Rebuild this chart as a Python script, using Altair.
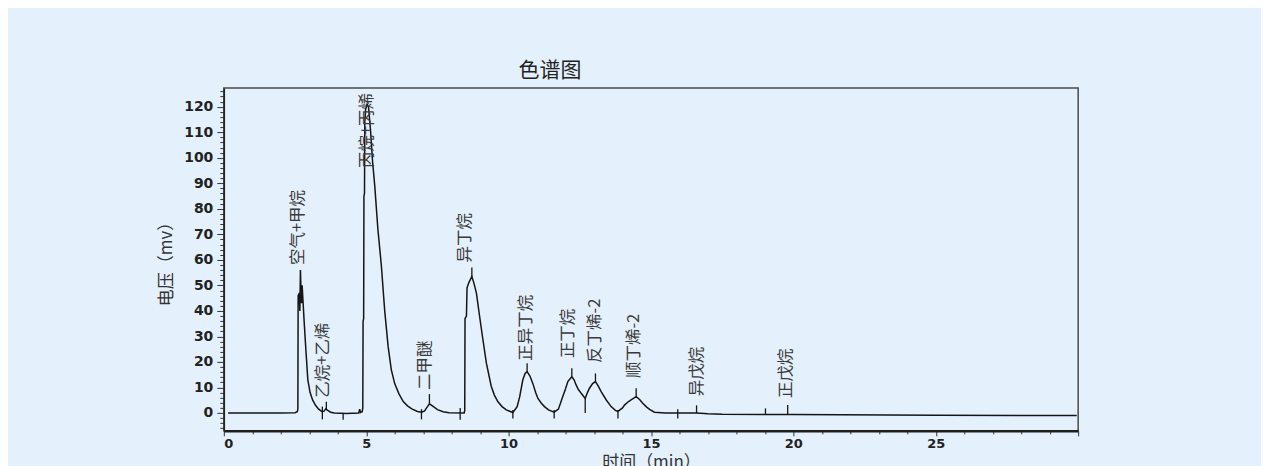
import altair as alt
import pandas as pd

# ---- chromatogram trace (time in min, signal in mV) ----
trace_t = [0.15, 1.0, 2.0, 2.5, 2.58, 2.60, 2.61, 2.65, 2.67, 2.69, 2.71, 2.73, 2.75, 2.78,
           2.82, 2.88, 2.95, 3.03, 3.12, 3.22, 3.33, 3.45, 3.52, 3.58, 3.65, 3.75, 3.88,
           4.3, 4.74, 4.77, 4.80, 4.86, 4.88, 4.89, 4.91, 4.92, 4.94, 4.95, 4.98, 5.03,
           5.08, 5.15, 5.22, 5.30, 5.41, 5.53, 5.65, 5.77, 5.88, 6.0, 6.15, 6.3, 6.45,
           6.6, 6.8, 6.95, 7.05, 7.12, 7.22, 7.35, 7.5, 7.7, 7.9, 8.44, 8.46, 8.47, 8.52,
           8.54, 8.6, 8.71, 8.78, 8.87, 8.98, 9.10, 9.22, 9.39, 9.5, 9.62, 9.77, 9.92,
           10.15, 10.3, 10.39, 10.5, 10.58, 10.65, 10.75, 10.85, 10.95, 11.03, 11.15,
           11.26, 11.4, 11.6, 11.75, 11.9, 12.0, 12.08, 12.22, 12.3, 12.37, 12.45, 12.55,
           12.69, 12.76, 12.84, 12.95, 13.05, 13.15, 13.25, 13.43, 13.6, 13.75, 13.84,
           14.0, 14.07, 14.2, 14.3, 14.48, 14.6, 14.71, 14.85, 14.95, 15.12, 15.5, 16.0,
           16.6, 17.0, 17.5, 20.0, 25.0, 29.95]
trace_mv = [0, 0, 0, 0.1, 0.5, 1.5, 46, 47, 40, 56, 48, 43, 50, 44,
            36, 25, 13, 8, 5, 3, 1.5, 0.5, 0.7, 1.6, 1.0, 0.3, 0,
            -0.2, 0, 1.5, 0.2, 0.5, 2, 36, 37, 85, 86, 114, 119, 121,
            120, 111, 99, 89, 72, 58, 40, 26, 17, 11.5, 7.5, 4.5, 2.8,
            1.6, 0.6, 0.3, 0.8, 2, 3.6, 2.6, 1.3, 0.5, 0.1, 0, 1, 37, 38,
            49, 51, 53.5, 51, 47, 38, 28.6, 19.5, 10.5, 7, 4.5, 2.5, 1.2,
            0.2, 2.5, 6.4, 13, 15.5, 16.2, 14.5, 11.6, 8, 5.7, 3.8,
            2.5, 1.2, 0.3, 1.5, 6.4, 9.5, 12.3, 14.2, 13, 11, 9.2, 7.7,
            5.7, 7.8, 9.7, 11.5, 12.3, 10.5, 8.4, 5.1, 2.5, 1.0, 0.6,
            2, 3.1, 4.4, 5.1, 6.4, 5.3, 3.8, 2.3, 1.4, 0.3, 0, 0,
            0, -0.3, -0.5, -0.6, -0.9, -1.0]

# ---- peak names and label anchors ----
peak_names = ["空气+甲烷", "乙烷+乙烯", "丙烷+丙烯", "二甲醚", "异丁烷", "正异丁烷",
              "正丁烷", "反丁烯-2", "顺丁烯-2", "异戊烷", "正戊烷"]
label_t = [2.6, 3.47, 5.02, 7.05, 8.48, 10.62, 12.07, 13.02, 14.42, 16.6, 19.74]
label_mv = [58, 6, 96, 9, 59, 20.5, 21.5, 19.6, 13.7, 6.6, 5.9]

# ---- integration markers ----
apex_t = [3.6, 7.22, 8.71, 10.65, 12.22, 13.05, 14.48, 16.6, 19.02, 19.8]
apex_lo = [1.6, 3.6, 53.5, 16.2, 14.2, 12.3, 6.4, 0, -0.6, -0.6]
apex_hi = [4.4, 7.4, 57, 19.5, 17.5, 15.5, 9.7, 3.0, 1.8, 3.1]
valley_t = [3.46, 4.19, 6.94, 8.3, 10.15, 11.6, 13.84, 15.94]
valley_lo = [-2.5, -2.7, -2.5, -2.7, -2.2, -2.2, -2.2, -2.2]
valley_hi = [2.5, 0, 1.5, 2.0, 1.2, 1.2, 1.2, 1.5]
drop_t = [12.69]
drop_lo = [0]
drop_hi = [5.7]

# unify column names so the layers share one x and one y axis
trace = pd.DataFrame({"t": trace_t, "mv": trace_mv})
labels = pd.DataFrame({"name": peak_names, "t": label_t, "mv": label_mv})
ticks = pd.DataFrame({
    "t": apex_t + valley_t + drop_t,
    "mv": apex_lo + valley_lo + drop_lo,
    "hi": apex_hi + valley_hi + drop_hi,
})

BG = "#E4F1FC"
CJK = "Noto Sans CJK SC"

xscale = alt.Scale(domain=[0, 30], nice=False, zero=False)
yscale = alt.Scale(domain=[-7, 127.3], nice=False, zero=False)

x_axis = alt.Axis(
    values=list(range(0, 31)),
    labelExpr="datum.value % 5 === 0 && datum.value < 30 ? datum.label : ''",
    tickSize={"condition": {"test": "datum.value % 5 === 0", "value": 5}, "value": 3},
    labelPadding=2, labelFont="DejaVu Sans", labelFontWeight="bold", labelFontSize=13,
    labelColor="#222", domainColor="#1e1e1e", domainWidth=2.5, tickColor="#333",
    grid=False, title="时间（min）", titleFont=CJK, titleFontSize=17,
    titleFontWeight="normal", titleColor="#333", titlePadding=4,
)
y_axis = alt.Axis(
    values=list(range(-6, 127, 2)),
    labelExpr="datum.value % 10 === 0 && datum.value >= 0 ? datum.label : ''",
    tickSize={"condition": {"test": "datum.value % 10 === 0", "value": 7}, "value": 4},
    labelPadding=4, labelFont="DejaVu Sans", labelFontWeight="bold", labelFontSize=14,
    labelColor="#222", domainColor="#222", domainWidth=1.5, tickColor="#333",
    grid=False, title="电压（mv）", titleFont=CJK, titleFontSize=17,
    titleFontWeight="normal", titleColor="#333", titlePadding=8,
)

X = alt.X("t:Q", scale=xscale, axis=x_axis)
Y = alt.Y("mv:Q", scale=yscale, axis=y_axis)

line = alt.Chart(trace).mark_line(color="#151515", strokeWidth=1.5).encode(
    x=X, y=Y, order="t:Q",
)

marks = alt.Chart(ticks).mark_rule(color="#151515", strokeWidth=1.3).encode(
    x=X, y=Y, y2="hi:Q",
)

text = alt.Chart(labels).mark_text(
    angle=270, align="left", baseline="middle", font=CJK, fontSize=16.5,
    color="#3a3a3a",
).encode(x=X, y=Y, text="name:N")

chart = alt.layer(line, marks, text).properties(
    width=855, height=343,
    autosize=alt.AutoSizeParams(type="none"),
    padding={"left": 216, "top": 80, "right": 183, "bottom": 40},
    background=BG,
    title=alt.TitleParams("色谱图", font=CJK, fontSize=21, fontWeight="normal",
                          color="#222", anchor="middle", dx=-101, offset=7),
).configure_view(
    stroke="#4a4a4a", strokeWidth=1.5, fill=BG,
)

chart.save("out.html", embed_options={"renderer": "svg", "actions": False})
